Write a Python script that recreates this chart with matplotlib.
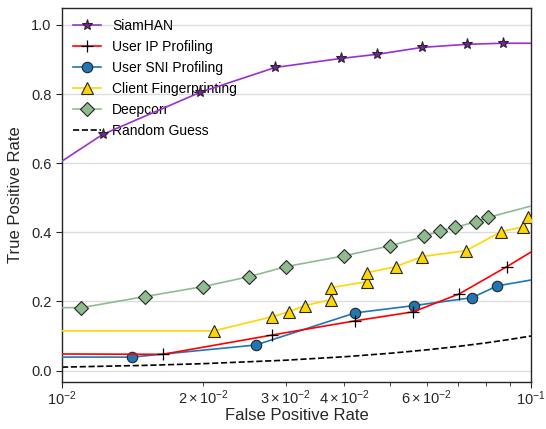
import matplotlib
matplotlib.use("Agg")
import matplotlib.pyplot as plt

plt.rcParams['font.family'] = ['Liberation Sans', 'DejaVu Sans']
plt.rcParams['mathtext.fontset'] = 'custom'
plt.rcParams['mathtext.rm'] = 'Liberation Sans'
plt.rcParams['mathtext.it'] = 'Liberation Sans:italic'

# ROC curves (false positive rate, true positive rate)
siamhan_fpr = [0.01, 0.0122, 0.0197, 0.0285, 0.0393, 0.047, 0.0586, 0.0731, 0.0872, 0.1]
siamhan_tpr = [0.606, 0.683, 0.805, 0.877, 0.903, 0.915, 0.935, 0.944, 0.947, 0.947]

ip_fpr = [0.01, 0.0164, 0.0281, 0.0422, 0.0561, 0.0703, 0.0889, 0.1]
ip_tpr = [0.048, 0.047, 0.103, 0.144, 0.170, 0.222, 0.301, 0.343]

sni_fpr = [0.01, 0.0141, 0.0259, 0.0422, 0.0563, 0.0749, 0.0847, 0.1]
sni_tpr = [0.039, 0.039, 0.074, 0.167, 0.188, 0.211, 0.245, 0.262]

client_fpr = [0.01, 0.0211, 0.0281, 0.0304, 0.0329, 0.0375, 0.0375, 0.0446, 0.0446,
              0.0516, 0.0586, 0.0727, 0.0864, 0.0962, 0.0985, 0.1]
client_tpr = [0.115, 0.115, 0.156, 0.170, 0.188, 0.205, 0.240, 0.257, 0.283,
              0.301, 0.330, 0.347, 0.402, 0.416, 0.445, 0.448]

deepcorr_fpr = [0.01, 0.0110, 0.0150, 0.0200, 0.0251, 0.0301, 0.0400, 0.0501, 0.0592,
                0.0640, 0.0689, 0.0764, 0.0810, 0.1]
deepcorr_tpr = [0.182, 0.182, 0.214, 0.243, 0.272, 0.301, 0.332, 0.361, 0.388,
                0.405, 0.414, 0.431, 0.443, 0.476]

random_fpr = [0.01, 0.015, 0.02, 0.03, 0.04, 0.05, 0.06, 0.07, 0.08, 0.09, 0.1]
random_tpr = [0.01, 0.015, 0.02, 0.03, 0.04, 0.05, 0.06, 0.07, 0.08, 0.09, 0.1]

fig = plt.figure(figsize=(5.46, 4.29), dpi=100)
ax = fig.add_axes([0.1136, 0.1096, 0.859, 0.8718])

edge = '0.15'
ax.plot(siamhan_fpr, siamhan_tpr, color='#9932CC', lw=1.2, marker='*', ms=8,
        mfc='#7B1FA2', mec=edge, mew=0.8, markevery=slice(1, -1), label='SiamHAN', zorder=6)
ax.plot(ip_fpr, ip_tpr, color='red', lw=1.2, marker='+', ms=9, mec='black', mew=0.9,
        markevery=slice(1, -1), label='User IP Profiling', zorder=4)
ax.plot(sni_fpr, sni_tpr, color='#1f77b4', lw=1.2, marker='o', ms=7.5, mfc='#1f77b4',
        mec=edge, mew=0.8, markevery=slice(1, -1), label='User SNI Profiling', zorder=3)
ax.plot(client_fpr, client_tpr, color='#FFD700', lw=1.2, marker='^', ms=8, mfc='#FFD700',
        mec=edge, mew=0.8, markevery=slice(1, -1), label='Client Fingerprinting', zorder=5)
ax.plot(deepcorr_fpr, deepcorr_tpr, color='#8FBC8F', lw=1.2, marker='D', ms=7, mfc='#8FBC8F',
        mec=edge, mew=0.8, markevery=slice(1, -1), label='Deepcorr', zorder=5)
ax.plot(random_fpr, random_tpr, color='black', lw=1.2, ls='--', label='Random Guess', zorder=2)

ax.set_xscale('log')
ax.set_xlim(0.01, 0.1)
ax.set_ylim(-0.033, 1.049)
ax.set_yticks([0.0, 0.2, 0.4, 0.6, 0.8, 1.0])
ax.yaxis.grid(True, color='#dddddd', lw=1)
ax.set_axisbelow(True)

ax.set_xlabel('False Positive Rate', fontsize=12, color='0.15', labelpad=0)
ax.set_ylabel('True Positive Rate', fontsize=12, color='0.15', labelpad=6)
ax.tick_params(axis='both', which='both', direction='out', colors='0.15', labelsize=10.5)
ax.tick_params(axis='x', which='both', pad=1.5)
ax.tick_params(axis='x', which='minor', length=3)
ax.tick_params(axis='both', which='major', length=4)
for s in ax.spines.values():
    s.set_color('0.15')
    s.set_linewidth(1.0)

ax.legend(loc='upper left', frameon=False, fontsize=10, borderaxespad=0.4)

fig.savefig('out.png', dpi=100)
